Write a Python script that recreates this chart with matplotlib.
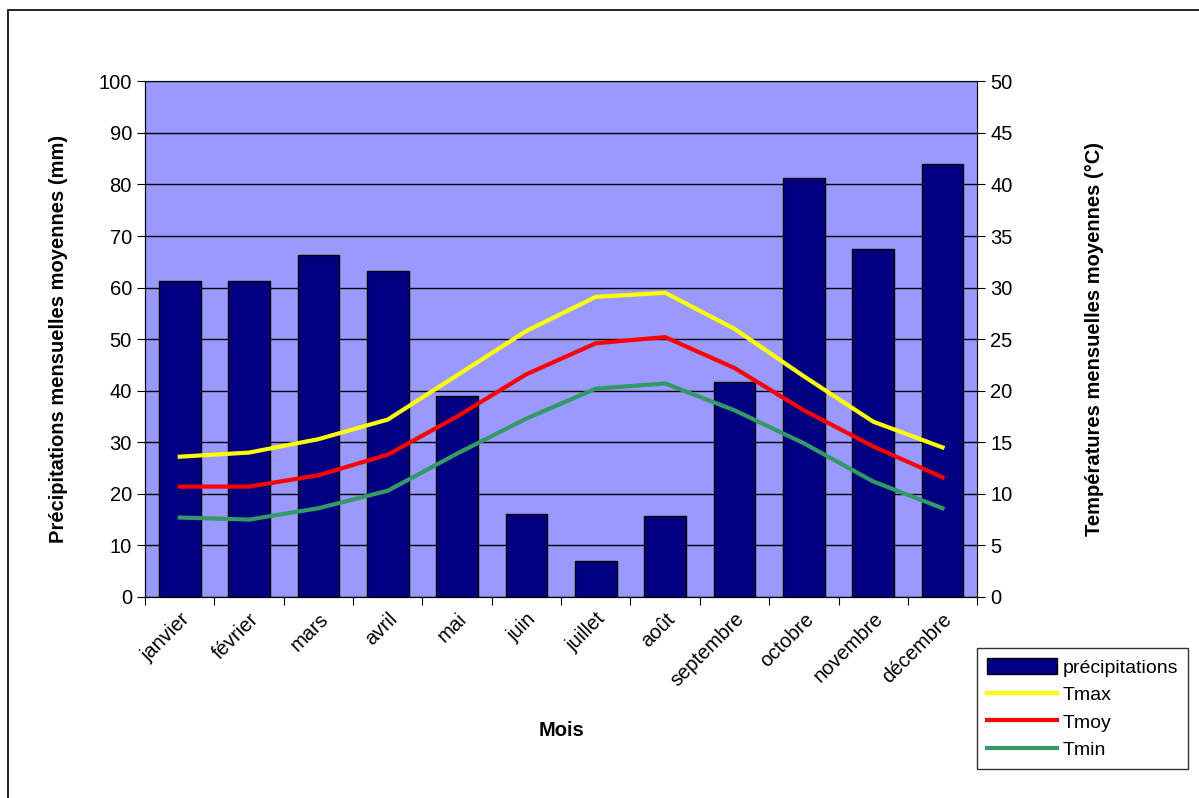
import numpy as np
import matplotlib.pyplot as plt
from matplotlib.patches import Rectangle

mois = ['janvier', 'février', 'mars', 'avril', 'mai', 'juin', 'juillet', 'août',
        'septembre', 'octobre', 'novembre', 'décembre']
precip = [61.2, 61.2, 66.4, 63.3, 39.0, 16.0, 7.0, 15.7, 41.7, 81.2, 67.5, 83.9]
tmax = [13.6, 14.0, 15.3, 17.2, 21.5, 25.8, 29.1, 29.5, 26.0, 21.4, 17.0, 14.5]
tmoy = [10.7, 10.7, 11.8, 13.8, 17.5, 21.6, 24.6, 25.2, 22.2, 18.1, 14.6, 11.6]
tmin = [7.7, 7.5, 8.6, 10.3, 13.9, 17.3, 20.2, 20.7, 18.1, 14.9, 11.2, 8.6]

plt.rcParams['font.family'] = ['Liberation Sans', 'DejaVu Sans']

fig = plt.figure(figsize=(11.99, 7.98), dpi=100)
fig.patches.append(Rectangle((0.007, -0.01), 1.2, 0.997, transform=fig.transFigure,
                             fill=False, edgecolor='black', linewidth=1.2))

ax = fig.add_axes([0.121, 0.252, 0.694, 0.646])
x = np.arange(len(mois))
ax.set_facecolor('#9999ff')
ax.bar(x, precip, width=0.6, color='#000080', edgecolor='black', linewidth=1,
       label='précipitations', zorder=3)
ax.set_xlim(-0.5, 11.5)
ax.set_ylim(0, 100)
ax.set_yticks(range(0, 101, 10))
ax.yaxis.grid(True, color='black', linewidth=1)
ax.set_axisbelow(True)
ax.set_xticks(np.arange(-0.5, 12, 1))
ax.set_xticklabels([])
ax.set_xticks(x, minor=True)
ax.set_xticklabels(mois, minor=True, rotation=45, ha='right', rotation_mode='anchor',
                   fontsize=14.5)
ax.tick_params(axis='x', which='minor', length=0, pad=9)
ax.tick_params(axis='x', which='major', length=6, direction='out')
ax.tick_params(axis='y', labelsize=14.5, length=6)
for s in ['top', 'right']:
    ax.spines[s].set_color('#808080')
ax.set_xlabel('Mois', fontsize=14.5, fontweight='bold', labelpad=22)
ax.set_ylabel('Précipitations mensuelles moyennes (mm)', fontsize=14.5,
              fontweight='bold', labelpad=22)

ax2 = ax.twinx()
ax2.plot(x, tmax, color='#ffff00', linewidth=3, label='Tmax', zorder=4)
ax2.plot(x, tmoy, color='#ff0000', linewidth=3, label='Tmoy', zorder=4)
ax2.plot(x, tmin, color='#339966', linewidth=3, label='Tmin', zorder=4)
ax2.set_ylim(0, 50)
ax2.set_yticks(range(0, 51, 5))
ax2.tick_params(axis='y', labelsize=14.5, length=6)
ax2.set_ylabel('Températures mensuelles moyennes (°C)', fontsize=14.5,
               fontweight='bold', labelpad=52)

h1, l1 = ax.get_legend_handles_labels()
h2, l2 = ax2.get_legend_handles_labels()
leg = fig.legend(h1 + h2, l1 + l2, loc='lower left', bbox_to_anchor=(0.807, 0.024),
                 fontsize=14, frameon=True, fancybox=False, edgecolor='black',
                 handlelength=3.6, handleheight=0.9, labelspacing=0.45,
                 borderpad=0.5, handletextpad=0.3)
leg.get_frame().set_linewidth(1)

fig.savefig('out.png', dpi=100)
